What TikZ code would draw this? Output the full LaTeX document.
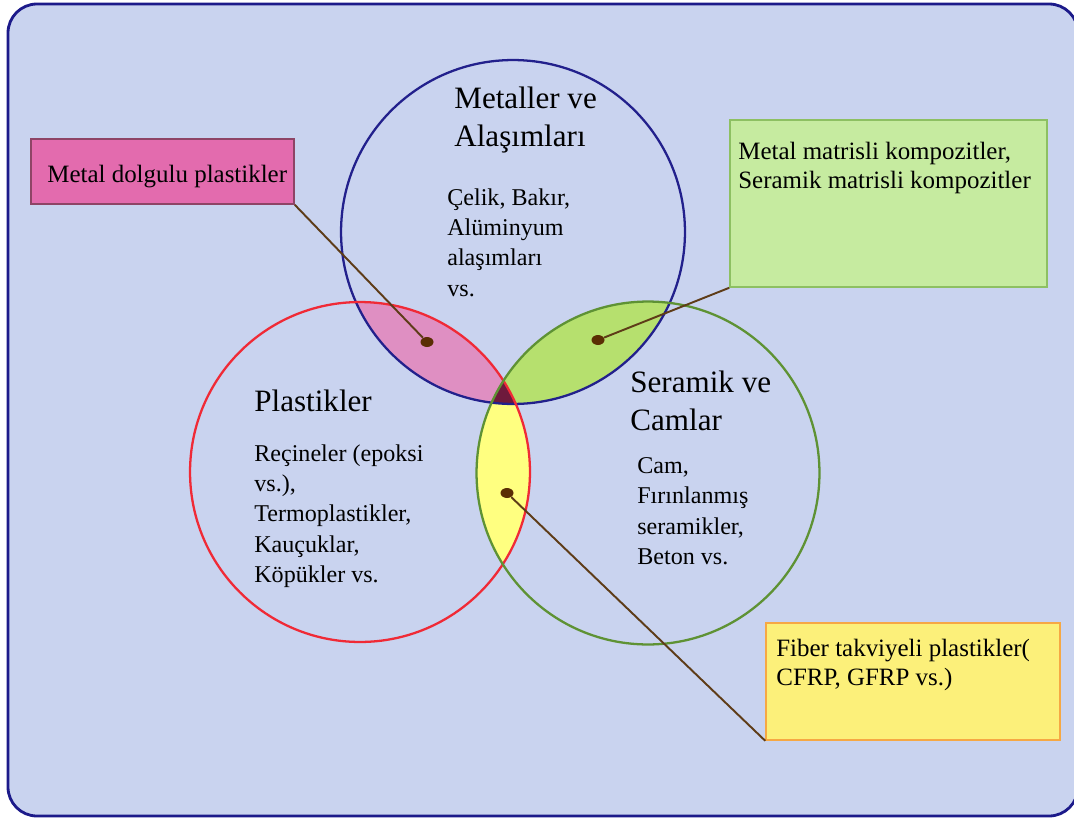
\documentclass[tikz,border=0pt]{standalone}
\usepackage{fontspec}
\setmainfont{Liberation Serif}
\usepackage{xcolor}
\usepackage{tikz}
\usetikzlibrary{
    positioning,
    shapes.geometric,
    calc
}
\definecolor{panelfill}{HTML}{C9D3EF}
\definecolor{panelline}{HTML}{1C1A8A}
\definecolor{metalline}{HTML}{22208C}
\definecolor{plastline}{HTML}{F02A36}
\definecolor{ceramline}{HTML}{5E9234}
\definecolor{metplast}{HTML}{DF8FC2}
\definecolor{metceram}{HTML}{B6E06E}
\definecolor{plastceram}{HTML}{FFFF80}
\definecolor{allthree}{HTML}{6E1A3C}
\definecolor{pinkfill}{HTML}{E36BAE}
\definecolor{pinkline}{HTML}{8E4466}
\definecolor{greenfill}{HTML}{C6EBA0}
\definecolor{greenline}{HTML}{8DC062}
\definecolor{yellowfill}{HTML}{FCF07A}
\definecolor{yellowline}{HTML}{F6A844}
\definecolor{leaderbrown}{HTML}{5E3C18}
\definecolor{dotbrown}{HTML}{5A2E04}
\tikzset{
    panel/.style={
        rounded corners=0.58cm,
        fill=panelfill,
        draw=panelline,
        line width=1.6pt
    },
    setcircle/.style={
        circle,
        inner sep=0pt,
        line width=1.3pt
    },
    heading/.style={
        anchor=north west,
        align=left,
        inner sep=0pt,
        font=\fontsize{17.7}{21.5}\selectfont
    },
    itemtext/.style={
        anchor=north west,
        align=left,
        inner sep=0pt,
        font=\fontsize{13.7}{17.3}\selectfont
    },
    callout/.style={
        rectangle,
        line width=0.9pt,
        inner sep=0pt
    },
    callouttext/.style={
        anchor=north west,
        align=left,
        inner sep=0pt,
        font=\fontsize{14.2}{16.5}\selectfont
    },
    hotspot/.style={
        ellipse,
        fill=dotbrown,
        inner sep=0pt,
        minimum width=0.26cm,
        minimum height=0.2cm
    },
    leader/.style={
        draw=leaderbrown,
        line width=1.1pt
    }
}

\begin{document}
\begin{tikzpicture}[x=0.02cm, y=-0.02cm]
\useasboundingbox (0,0) rectangle (1074,818);
\path[panel] (8,4) rectangle (1078,816);

% centres of the three sets
\coordinate (cM) at (513,232);
\coordinate (cP) at (360,472);
\coordinate (cS) at (648,473);

% overlaps
\begin{scope}
    \clip (cP) circle[radius=3.40cm];
    \fill[plastceram] (cS) circle[radius=3.43cm];
\end{scope}
\begin{scope}
    \clip (cM) circle[radius=3.44cm];
    \fill[metplast] (cP) circle[radius=3.40cm];
    \fill[metceram] (cS) circle[radius=3.43cm];
    \clip (cP) circle[radius=3.40cm];
    \fill[allthree] (cS) circle[radius=3.43cm];
\end{scope}

\node[setcircle, draw=metalline, minimum size=6.88cm] (metals) at (cM) {};
\node[setcircle, draw=plastline, minimum size=6.80cm] (plastics) at (cP) {};
\node[setcircle, draw=ceramline, minimum size=6.86cm] (ceramics) at (cS) {};

% set labels
\node[heading] (metalhead) at (454,87) {Metaller ve\\Alaşımları};
\node[itemtext] (metalitems) at (447,188) {Çelik, Bakır,\\Alüminyum\\alaşımları\\vs.};
\node[heading] (plasthead) at (254,390) {Plastikler};
\node[itemtext] (plastitems) at (254,444) {Reçineler (epoksi\\vs.),\\Termoplastikler,\\Kauçuklar,\\Köpükler vs.};
\node[heading] (ceramhead) at (630,371) {Seramik ve\\Camlar};
\node[itemtext] (ceramitems) at (637,457) {Cam,\\Fırınlanmış\\seramikler,\\Beton vs.};

% callouts
\node[hotspot] (mpdot) at (427,342) {};
\node[hotspot] (msdot) at (598,340) {};
\node[hotspot] (psdot) at (507,493) {};

\node[callout, fill=pinkfill, draw=pinkline, minimum width=5.26cm, minimum height=1.30cm] (mfp) at (162.5,171.5) {};
\node[callout, fill=greenfill, draw=greenline, minimum width=6.34cm, minimum height=3.34cm] (mmc) at (888.5,203.5) {};
\node[callout, fill=yellowfill, draw=yellowline, minimum width=5.88cm, minimum height=2.34cm] (frp) at (913,681.5) {};

\node[callouttext] (mfptext) at (47,165) {Metal dolgulu plastikler};
\node[callouttext] (mmctext) at (738,142) {Metal matrisli kompozitler,\\Seramik matrisli kompozitler};
\node[callouttext] (frptext) at (776,639) {Fiber takviyeli plastikler(\\CFRP, GFRP vs.)};

\draw[leader] (mfp.south east) -- (mpdot);
\draw[leader] (mmc.south west) -- (msdot);
\draw[leader] (frp.south west) -- (psdot);
\end{tikzpicture}
\end{document}
